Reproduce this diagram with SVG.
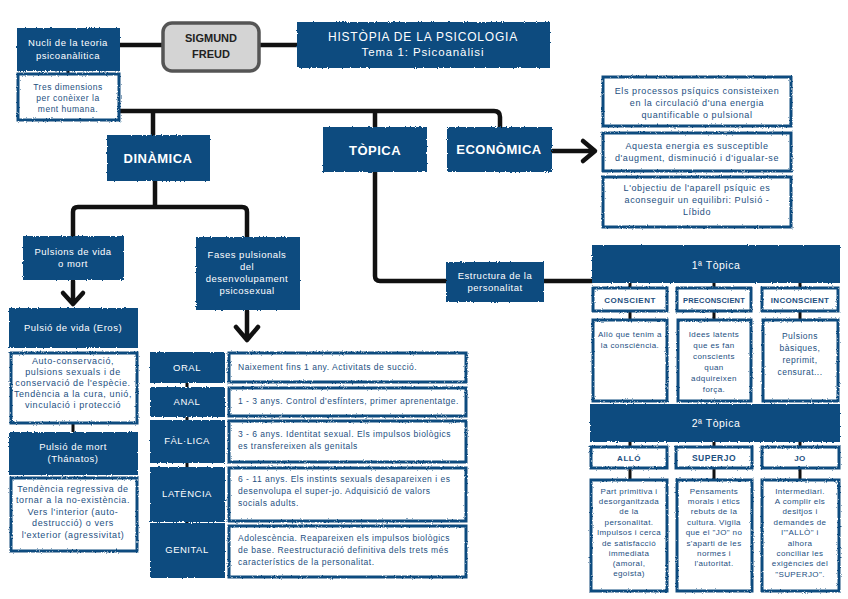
<svg xmlns="http://www.w3.org/2000/svg" width="848" height="599" viewBox="0 0 848 599">
<defs>
<filter id="rough" x="-5%" y="-10%" width="110%" height="120%">
<feTurbulence type="fractalNoise" baseFrequency="0.8" numOctaves="2" seed="3" result="n"/>
<feDisplacementMap in="SourceGraphic" in2="n" scale="2.5" xChannelSelector="R" yChannelSelector="G"/>
</filter>
<style>
.b{fill:#0f4c7f;filter:url(#rough)}
.w{fill:#fff;stroke:#0f4c7f;stroke-width:3;filter:url(#rough)}
.c{fill:none;stroke:#111;stroke-width:4.5;stroke-linecap:round;stroke-linejoin:round}
.ct{fill:none;stroke:#111;stroke-width:3}
text{font-family:"Liberation Sans",Arial,sans-serif;text-anchor:middle}
.t{fill:#fff;font-size:9.5px;letter-spacing:0.5px}
.tb{fill:#fff;font-size:13px;font-weight:bold;letter-spacing:0.5px}
.bt{fill:#1d4f7f;font-size:8.5px;letter-spacing:0.5px}
.e{font-size:9px;letter-spacing:0.6px}
.h{fill:#1d4f7f;font-size:8px;font-weight:bold;letter-spacing:0.5px}
.s{font-size:8px;letter-spacing:0.4px}
.l{text-anchor:start}
</style>
</defs>
<rect width="848" height="599" fill="#fff"/>

<g id="connectors">
<path class="c" d="M120 45H162M260 45H297"/>
<path class="ct" d="M68 71V74"/>
<path class="c" d="M120 111H494Q500 111 500 117V127M153 111V135M375 111V127"/>
<path class="c" d="M155 181V207M73 236V212Q73 207 78 207H242Q247 207 247 212V237"/>
<path class="c" d="M73 281V304M63 293L73 304L83 293"/>
<path class="c" d="M247 311V340M236 327L247 340L258 327"/>
<path class="c" d="M552 151H594M583 141L595 151L583 161"/>
<path class="c" d="M375 172V276Q375 281 380 281H446M544 281H592"/>
<path class="ct" d="M73 423V432M187 383V387M187 417V420M187 463V467M187 522V523"/>
<path class="ct" d="M630 283V288M714 283V288M800 283V288M630 311V320M714 311V320M800 311V320M630 442V447M714 442V447M800 442V447M630 468V480M714 468V480M800 468V480"/>
</g>

<g id="nucli"><rect class="b" x="17" y="28" width="103" height="43"/>
<text class="t" x="68" y="46">Nucli de la teoria</text><text class="t" x="68" y="59">psicoanàlitica</text></g>
<g id="tres"><rect class="w" x="18" y="74" width="101" height="46"/>
<text class="bt" x="68" y="90">Tres dimensions</text><text class="bt" x="68" y="101">per conèixer la</text><text class="bt" x="68" y="112">ment humana.</text></g>
<g id="freud"><rect x="163" y="23" width="96" height="48" rx="9" fill="#d4d4d4" stroke="#555" stroke-width="3.5"/>
<text x="211" y="42" font-size="11" font-weight="bold" fill="#222">SIGMUND</text><text x="211" y="58" font-size="11" font-weight="bold" fill="#222">FREUD</text></g>
<g id="historia"><rect class="b" x="297" y="22" width="253" height="46"/>
<text class="t" x="423" y="41" style="font-size:12px;letter-spacing:0.8px">HISTÒPIA DE LA PSICOLOGIA</text><text class="t" x="423" y="56" style="font-size:11.5px;letter-spacing:0.9px">Tema 1: Psicoanàlisi</text></g>

<g id="dinamica"><rect class="b" x="107" y="135" width="103" height="46"/><text class="tb" x="158" y="163">DINÀMICA</text></g>
<g id="topica"><rect class="b" x="323" y="127" width="104" height="45"/><text class="tb" x="375" y="155">TÒPICA</text></g>
<g id="economica"><rect class="b" x="447" y="127" width="105" height="45"/><text class="tb" x="499" y="154" font-size="12">ECONÒMICA</text></g>

<g id="eco1"><rect class="w" x="603" y="77" width="188" height="49"/>
<text class="bt e" x="697" y="94">Els processos psíquics consisteixen</text><text class="bt e" x="697" y="106">en la circulació d'una energia</text><text class="bt e" x="697" y="118">quantificable o pulsional</text></g>
<g id="eco2"><rect class="w" x="603" y="133" width="188" height="38"/>
<text class="bt e" x="697" y="149">Aquesta energia es susceptible</text><text class="bt e" x="697" y="161">d'augment, disminució i d'igualar-se</text></g>
<g id="eco3"><rect class="w" x="603" y="177" width="188" height="50"/>
<text class="bt e" x="697" y="191">L'objectiu de l'aparell psíquic es</text><text class="bt e" x="697" y="203">aconseguir un equilibri: Pulsió -</text><text class="bt e" x="697" y="215">Líbido</text></g>

<g id="pulsions"><rect class="b" x="23" y="236" width="101" height="44"/>
<text class="t" x="73" y="255">Pulsions de vida</text><text class="t" x="73" y="267">o mort</text></g>
<g id="fases"><rect class="b" x="196" y="237" width="104" height="73"/>
<text class="t" x="247" y="258">Fases pulsionals</text><text class="t" x="247" y="270">del</text><text class="t" x="247" y="282">desenvolupament</text><text class="t" x="247" y="294">psicosexual</text></g>
<g id="estructura"><rect class="b" x="446" y="262" width="98" height="40"/>
<text class="t" x="495" y="279">Estructura de la</text><text class="t" x="495" y="291">personalitat</text></g>

<g id="eros"><rect class="b" x="9" y="308" width="129" height="40"/><text class="t" x="73" y="331">Pulsió de vida (Eros)</text></g>
<g id="eros-d"><rect class="w" x="11" y="353" width="126" height="70"/>
<text class="bt e" x="73" y="364">Auto-conservació,</text><text class="bt e" x="73" y="375">pulsions sexuals i de</text><text class="bt e" x="73" y="386">conservació de l'espècie.</text><text class="bt e" x="73" y="397">Tendència a la cura, unió,</text><text class="bt e" x="73" y="408">vinculació i protecció</text></g>
<g id="thanatos"><rect class="b" x="9" y="432" width="129" height="43"/><text class="t" x="73" y="450">Pulsió de mort</text><text class="t" x="73" y="462">(Thánatos)</text></g>
<g id="thanatos-d"><rect class="w" x="11" y="478" width="126" height="73"/>
<text class="bt e" x="73" y="492">Tendència regressiva de</text><text class="bt e" x="73" y="503">tornar a la no-existència.</text><text class="bt e" x="73" y="515">Vers l'interior (auto-</text><text class="bt e" x="73" y="526">destrucció) o vers</text><text class="bt e" x="73" y="538">l'exterior (agressivitat)</text></g>

<g id="oral"><rect class="b" x="150" y="352" width="75" height="31"/><text class="t" x="187" y="371">ORAL</text>
<rect class="w" x="229" y="353" width="237" height="29"/><text class="bt l" x="238" y="370">Naixement fins 1 any. Activitats de succió.</text></g>
<g id="anal"><rect class="b" x="150" y="387" width="75" height="30"/><text class="t" x="187" y="405">ANAL</text>
<rect class="w" x="229" y="388" width="237" height="28"/><text class="bt l" x="238" y="404">1 - 3 anys. Control d'esfínters, primer aprenentatge.</text></g>
<g id="fallica"><rect class="b" x="150" y="420" width="75" height="43"/><text class="t" x="187" y="444">FÀL·LICA</text>
<rect class="w" x="229" y="421" width="237" height="41"/><text class="bt l" x="238" y="437">3 - 6 anys. Identitat sexual. Els impulsos biològics</text><text class="bt l" x="238" y="449">es transfereixen als genitals</text></g>
<g id="latencia"><rect class="b" x="150" y="467" width="75" height="55"/><text class="t" x="187" y="497">LATÈNCIA</text>
<rect class="w" x="229" y="468" width="237" height="53"/><text class="bt l" x="238" y="482">6 - 11 anys. Els instints sexuals desapareixen i es</text><text class="bt l" x="238" y="494">desenvolupa el super-jo. Adquisició de valors</text><text class="bt l" x="238" y="506">socials adults.</text></g>
<g id="genital"><rect class="b" x="150" y="523" width="75" height="55"/><text class="t" x="187" y="553">GENITAL</text>
<rect class="w" x="229" y="526" width="237" height="51"/><text class="bt l" x="238" y="541">Adolescència. Reapareixen els impulsos biològics</text><text class="bt l" x="238" y="553">de base. Reestructuració definitiva dels trets més</text><text class="bt l" x="238" y="565">característics de la personalitat.</text></g>

<g id="topica1"><rect class="b" x="592" y="245" width="248" height="38"/><text class="t" x="716" y="269" style="font-size:10.5px">1ª Tòpica</text></g>
<g id="conscient"><rect class="w" x="593" y="288" width="74" height="23"/><text class="h" x="630" y="303">CONSCIENT</text>
<rect class="w" x="593" y="320" width="74" height="81"/><text class="bt s" x="630" y="337">Allò que tenim a</text><text class="bt s" x="630" y="348">la consciència.</text></g>
<g id="preconscient"><rect class="w" x="677" y="288" width="74" height="23"/><text class="h" x="714" y="303" style="font-size:7.5px;letter-spacing:0.2px">PRECONSCIENT</text>
<rect class="w" x="678" y="320" width="73" height="81"/><text class="bt s" x="714" y="337">Idees latents</text><text class="bt s" x="714" y="348">que es fan</text><text class="bt s" x="714" y="359">conscients</text><text class="bt s" x="714" y="370">quan</text><text class="bt s" x="714" y="381">adquireixen</text><text class="bt s" x="714" y="392">força.</text></g>
<g id="inconscient"><rect class="w" x="762" y="288" width="76" height="23"/><text class="h" x="800" y="303" style="letter-spacing:0.3px">INCONSCIENT</text>
<rect class="w" x="763" y="320" width="75" height="81"/><text class="bt" x="800" y="339">Pulsions</text><text class="bt" x="800" y="351">bàsiques,</text><text class="bt" x="800" y="363">reprimit,</text><text class="bt" x="800" y="375">censurat...</text></g>

<g id="topica2"><rect class="b" x="590" y="404" width="250" height="38"/><text class="t" x="716" y="427" style="font-size:10.5px">2ª Tòpica</text></g>
<g id="allo"><rect class="w" x="591" y="447" width="76" height="21"/><text class="h" x="629" y="461">ALLÓ</text>
<rect class="w" x="591" y="480" width="76" height="111"/><text class="bt s" x="629" y="494">Part primitiva i</text><text class="bt s" x="629" y="504">desorganitzada</text><text class="bt s" x="629" y="514">de la</text><text class="bt s" x="629" y="525">personalitat.</text><text class="bt s" x="629" y="535">Impulsos i cerca</text><text class="bt s" x="629" y="546">de satisfacció</text><text class="bt s" x="629" y="556">immediata</text><text class="bt s" x="629" y="566">(amoral,</text><text class="bt s" x="629" y="576">egoista)</text></g>
<g id="superjo"><rect class="w" x="676" y="447" width="76" height="21"/><text class="h" x="714" y="461" style="font-size:8.5px">SUPERJO</text>
<rect class="w" x="677" y="480" width="75" height="111"/><text class="bt s" x="714" y="494">Pensaments</text><text class="bt s" x="714" y="504">morals i ètics</text><text class="bt s" x="714" y="514">rebuts de la</text><text class="bt s" x="714" y="525">cultura. Vigila</text><text class="bt s" x="714" y="535">que el "JO" no</text><text class="bt s" x="714" y="546">s'aparti de les</text><text class="bt s" x="714" y="556">normes i</text><text class="bt s" x="714" y="566">l'autoritat.</text></g>
<g id="jo"><rect class="w" x="762" y="447" width="77" height="21"/><text class="h" x="800" y="461">JO</text>
<rect class="w" x="762" y="480" width="77" height="111"/><text class="bt s" x="800" y="494">Intermediari.</text><text class="bt s" x="800" y="504">A complir els</text><text class="bt s" x="800" y="514">desitjos i</text><text class="bt s" x="800" y="525">demandes de</text><text class="bt s" x="800" y="535">l'"ALLÒ" i</text><text class="bt s" x="800" y="546">alhora</text><text class="bt s" x="800" y="556">conciliar les</text><text class="bt s" x="800" y="566">exigències del</text><text class="bt s" x="800" y="577">"SUPERJO".</text></g>
</svg>
